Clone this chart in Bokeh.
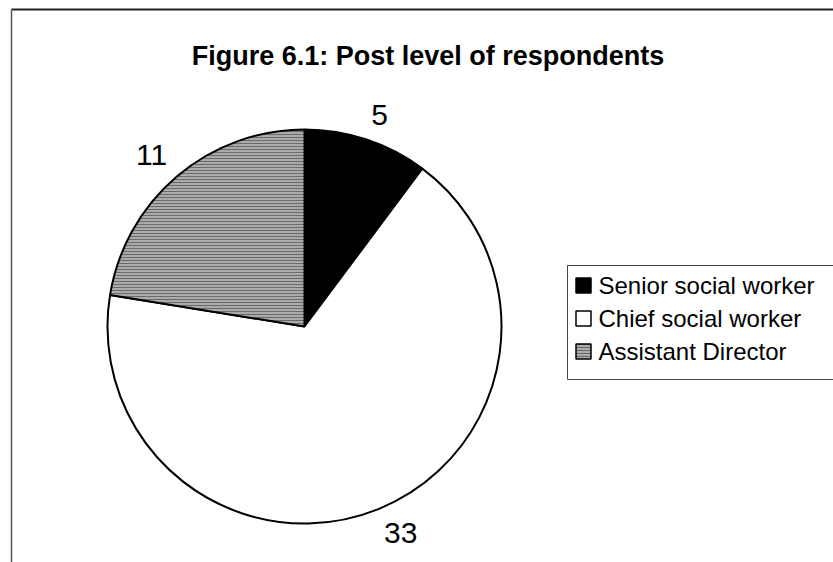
import math

from bokeh.core.properties import value
from bokeh.embed import file_html
from bokeh.models import ColumnDataSource, Range1d
from bokeh.plotting import figure
from bokeh.resources import INLINE

# --- data -------------------------------------------------------------
categories = ["Senior social worker", "Chief social worker", "Assistant Director"]
counts = [5, 33, 11]
fill_colors = ["#000000", "#ffffff", "#ababab"]
hatch_patterns = [" ", " ", "horizontal_line"]
title_text = "Figure 6.1: Post level of respondents"

# --- page geometry (pixels measured from the top-left corner) ----------
W, H = 833, 562
FONT = "Liberation Sans"
PIE_CX, PIE_CY, PIE_R = 304, 326, 197
LABEL_GAP = 15
LEG_LEFT, LEG_TOP, LEG_BOTTOM = 567, 265, 379
LEG_ROW0, LEG_ROW_STEP = 285, 33


def fy(y_px):
    """Convert a top-down pixel row into the plot's bottom-up data y."""
    return H - y_px


p = figure(
    width=W, height=H,
    x_range=Range1d(0, W), y_range=Range1d(0, H),
    output_backend="svg", toolbar_location=None,
    min_border=0, outline_line_color=None,
    background_fill_color="white", border_fill_color="white",
)
p.axis.visible = False
p.grid.visible = False

# chart frame (top and left edges)
p.line(x=[11, W + 5], y=[fy(9), fy(9)], line_color="#222222", line_width=2)
p.line(x=[11, 11], y=[fy(9), fy(H + 5)], line_color="#555555", line_width=1.5)

# title
p.text(x=[W / 2 + 11], y=[fy(55)], text=[title_text],
       text_font=value(FONT), text_font_size="27px", text_font_style="bold",
       text_align="center", text_baseline="alphabetic", text_color="black")

# --- pie slices, clockwise from 12 o'clock ------------------------------
total = sum(counts)
starts, ends, mids = [], [], []
running = 0
for c in counts:
    a0 = math.pi / 2 - 2 * math.pi * running / total
    a1 = math.pi / 2 - 2 * math.pi * (running + c) / total
    starts.append(a0)
    ends.append(a1)
    mids.append((a0 + a1) / 2)
    running += c

pie = ColumnDataSource(dict(
    start=starts, end=ends, color=fill_colors, hatch=hatch_patterns,
    cat=categories,
))
p.wedge(x=PIE_CX, y=fy(PIE_CY), radius=PIE_R, start_angle="start", end_angle="end",
        direction="clock", source=pie, fill_color="color",
        hatch_pattern="hatch", hatch_color="#6a6a6a", hatch_scale=3, hatch_weight=1,
        line_color="black", line_width=2)

# value labels just outside each slice
lx, ly, la, lb = [], [], [], []
for m in mids:
    ux, uy = math.cos(m), math.sin(m)
    lx.append(PIE_CX + (PIE_R + LABEL_GAP) * ux)
    ly.append(fy(PIE_CY) + (PIE_R + LABEL_GAP) * uy)
    la.append("left" if ux >= 0 else "right")
    lb.append("bottom" if uy >= 0 else "top")
labels = ColumnDataSource(dict(x=lx, y=ly, t=[str(c) for c in counts], a=la, b=lb))
p.text(x="x", y="y", text="t", text_align="a", text_baseline="b", source=labels,
       text_font=value(FONT), text_font_size="30px", text_color="black")

# --- legend ---------------------------------------------------------------
p.quad(left=LEG_LEFT, right=W + 10, top=fy(LEG_TOP), bottom=fy(LEG_BOTTOM),
       fill_color="white", line_color="#444444", line_width=1)
rows_y = [fy(LEG_ROW0 + i * LEG_ROW_STEP) for i in range(len(categories))]
leg = ColumnDataSource(dict(
    x=[LEG_LEFT + 16] * len(categories), y=rows_y,
    tx=[LEG_LEFT + 31] * len(categories),
    color=fill_colors, hatch=hatch_patterns, cat=categories,
))
p.rect(x="x", y="y", width=15, height=15, source=leg, fill_color="color",
       hatch_pattern="hatch", hatch_color="#6a6a6a", hatch_scale=3, hatch_weight=1,
       line_color="black", line_width=1.5)
p.text(x="tx", y="y", text="cat", source=leg, text_font=value(FONT),
       text_font_size="24px", text_align="left", text_baseline="middle",
       text_color="black")

open("out.html", "w").write(file_html(p, INLINE))
